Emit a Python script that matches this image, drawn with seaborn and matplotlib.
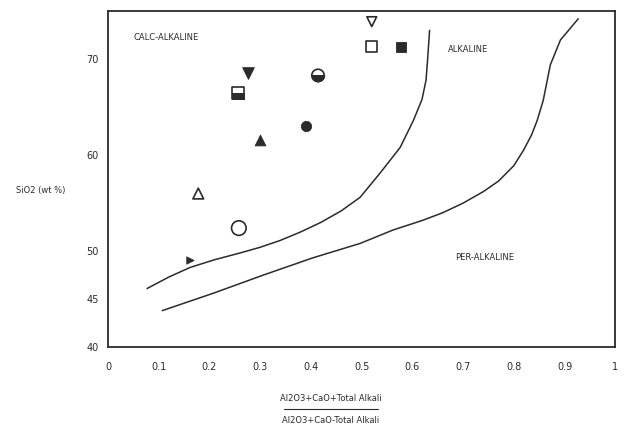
import numpy as np
import pandas as pd
import matplotlib
matplotlib.use("Agg")
import matplotlib.pyplot as plt
from matplotlib.markers import MarkerStyle
import seaborn as sns

INK = "#2b2b2b"

# boundary curves
upper_x = [0.077, 0.12, 0.162, 0.21, 0.26, 0.30, 0.339, 0.38, 0.42, 0.46, 0.497,
           0.536, 0.576, 0.602, 0.619, 0.627, 0.63, 0.634]
upper_y = [46.1, 47.3, 48.3, 49.1, 49.8, 50.4, 51.1, 52.0, 53.0, 54.2, 55.6,
           58.1, 60.8, 63.6, 65.8, 67.8, 69.9, 73.0]
lower_x = [0.107, 0.207, 0.306, 0.404, 0.497, 0.562, 0.62, 0.66, 0.70, 0.74, 0.77,
           0.80, 0.819, 0.835, 0.846, 0.858, 0.872, 0.892, 0.927]
lower_y = [43.8, 45.6, 47.5, 49.3, 50.8, 52.2, 53.2, 54.0, 55.0, 56.2, 57.3,
           58.9, 60.5, 62.1, 63.6, 65.7, 69.4, 72.0, 74.2]

# samples
samp_x = [0.276, 0.256, 0.30, 0.39, 0.414, 0.52, 0.52, 0.578, 0.178, 0.258, 0.162]
samp_y = [68.6, 66.5, 61.6, 63.0, 68.3, 71.3, 73.9, 71.3, 56.0, 52.4, 49.1]
samp_kind = ["v_fill", "s_half", "tri_fill", "o_fill", "o_half", "s_open",
             "v_open", "s_fill", "tri_open", "o_open", "arrow"]

x_ticks = [0, 0.1, 0.2, 0.3, 0.4, 0.5, 0.6, 0.7, 0.8, 0.9, 1.0]
x_labels = ["0", "0.1", "0.2", "0.3", "0.4", "0.5", "0.6", "0.7", "0.8", "0.9", "1"]
y_ticks = [40, 45, 50, 55, 60, 65, 70]
y_labels = ["40", "45", "50", "", "60", "", "70"]

STYLES = {
    "v_fill":   dict(marker="v", s=70, color=INK, edgecolor=INK),
    "v_open":   dict(marker="v", s=50, facecolor="none", edgecolor=INK, linewidth=1.2),
    "s_fill":   dict(marker="s", s=60, color=INK, edgecolor=INK),
    "s_open":   dict(marker="s", s=60, facecolor="none", edgecolor=INK, linewidth=1.2),
    "s_half":   dict(marker=MarkerStyle("s", fillstyle="bottom"), s=80, color=INK, edgecolor=INK),
    "tri_fill": dict(marker="^", s=60, color=INK, edgecolor=INK),
    "tri_open": dict(marker="^", s=60, facecolor="none", edgecolor=INK, linewidth=1.2),
    "o_fill":   dict(marker="o", s=55, color=INK, edgecolor=INK),
    "o_open":   dict(marker="o", s=110, facecolor="none", edgecolor=INK, linewidth=1.2),
    "o_half":   dict(marker=MarkerStyle("o", fillstyle="bottom"), s=80, color=INK, edgecolor=INK),
    "arrow":    dict(marker=">", s=30, color=INK, edgecolor=INK),
}

sns.set_style("white")
plt.rcParams["font.family"] = ["DejaVu Sans"]

fig = plt.figure(figsize=(6.24, 4.28), dpi=100)
ax = fig.add_axes([0.173, 0.189, 0.813, 0.785])

sns.lineplot(x=upper_x, y=upper_y, ax=ax, sort=False, estimator=None,
             color=INK, lw=1.1)
sns.lineplot(x=lower_x, y=lower_y, ax=ax, sort=False, estimator=None,
             color=INK, lw=1.1)

df = pd.DataFrame({"x": samp_x, "y": samp_y, "kind": samp_kind})
for kind, grp in df.groupby("kind"):
    st = dict(STYLES[kind])
    sns.scatterplot(data=grp, x="x", y="y", ax=ax, legend=False, zorder=3, **st)
    if kind.endswith("_half"):
        # outline of the unfilled half
        base = "s" if kind.startswith("s") else "o"
        sns.scatterplot(data=grp, x="x", y="y", ax=ax, legend=False, zorder=3,
                        marker=base, s=st["s"], facecolor="none",
                        edgecolor=INK, linewidth=1.2)

ax.set_xlim(0, 1.0)
ax.set_ylim(40, 75)
ax.set_xticks(x_ticks)
ax.set_xticklabels(x_labels)
ax.set_yticks(y_ticks)
ax.set_yticklabels(y_labels)
ax.tick_params(axis="both", labelsize=7, colors=INK, length=3, direction="out")
ax.tick_params(axis="x", pad=8)
ax.set_xlabel("")
ax.set_ylabel("")
for sp in ax.spines.values():
    sp.set_color(INK)
    sp.set_linewidth(1.3)

ax.text(0.05, 72.3, "CALC-ALKALINE", fontsize=6, color=INK, va="center")
ax.text(0.67, 71.0, "ALKALINE", fontsize=6, color=INK, va="center")
ax.text(0.685, 49.3, "PER-ALKALINE", fontsize=6, color=INK, va="center")

fig.text(0.025, 0.555, "SiO2 (wt %)", fontsize=6, color=INK, va="center")
fig.text(0.53, 0.062, "Al2O3+CaO+Total Alkali", fontsize=6, color=INK, ha="center")
fig.add_artist(plt.Line2D([0.455, 0.605], [0.045, 0.045], color=INK, lw=0.8))
fig.text(0.53, 0.012, "Al2O3+CaO-Total Alkali", fontsize=6, color=INK, ha="center")

fig.savefig("out.png", dpi=100, facecolor="white")
